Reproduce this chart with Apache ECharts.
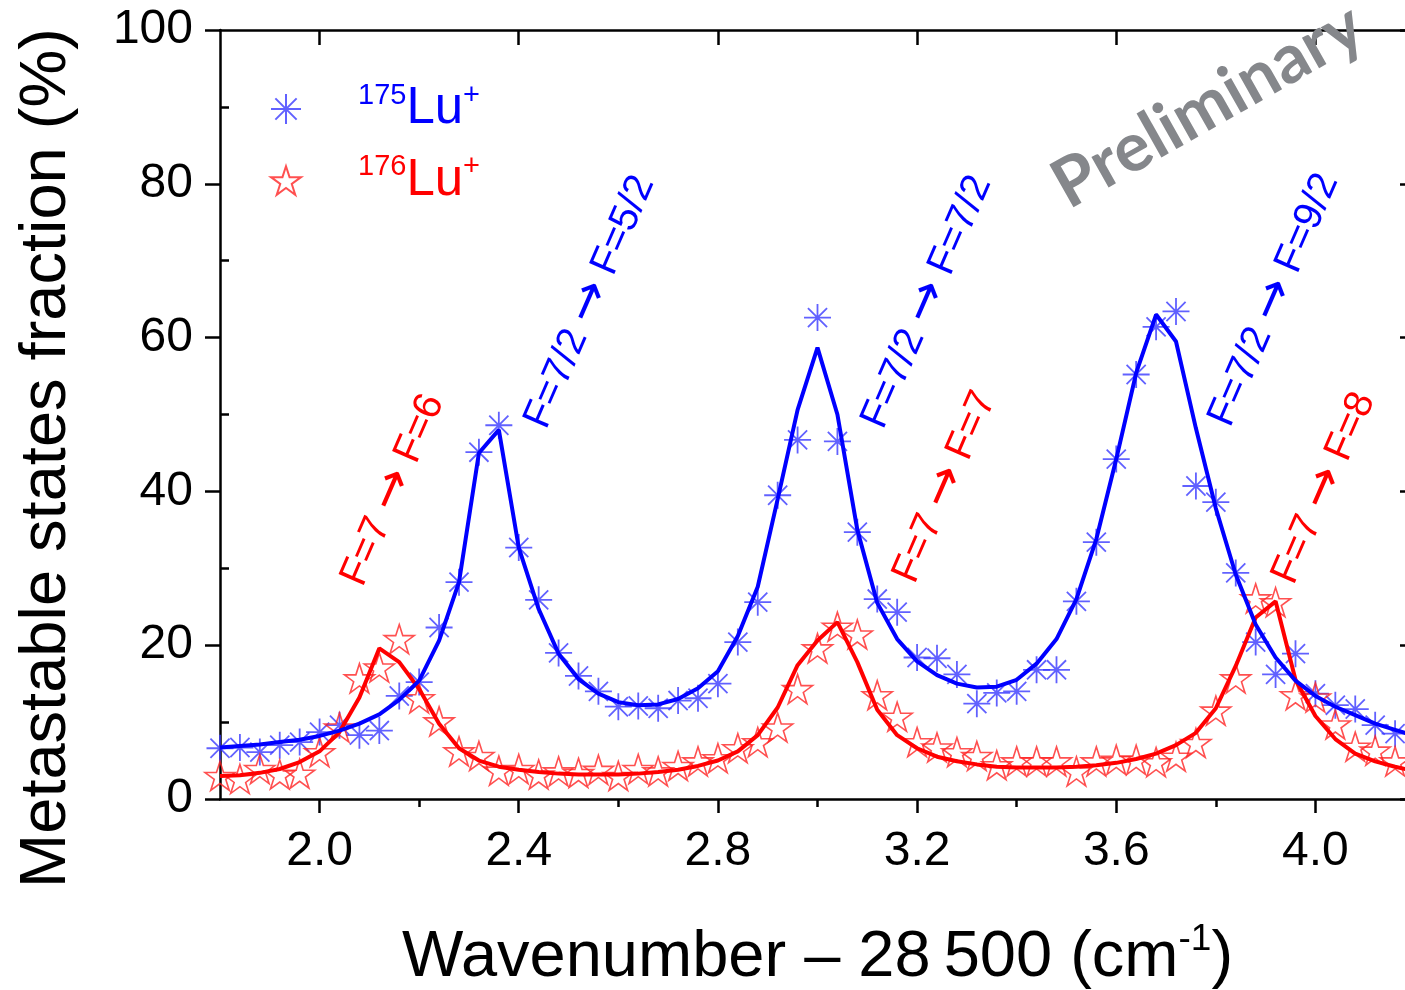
<!DOCTYPE html>
<html>
<head>
<meta charset="utf-8">
<script src="https://cdn.jsdelivr.net/npm/echarts@6/dist/echarts.min.js"></script>
<style>
  html, body { margin: 0; padding: 0; background: #fff; }
  #chart { width: 1405px; height: 990px; }
</style>
</head>
<body>
<div id="chart"></div>
<script>
// Wavenumber offset from 28 500 cm^-1
const wavenumber = [
  1.80, 1.84, 1.88, 1.92, 1.96, 2.00, 2.04, 2.08, 2.12, 2.16,
  2.20, 2.24, 2.28, 2.32, 2.36, 2.40, 2.44, 2.48, 2.52, 2.56,
  2.60, 2.64, 2.68, 2.72, 2.76, 2.80, 2.84, 2.88, 2.92, 2.96,
  3.00, 3.04, 3.08, 3.12, 3.16, 3.20, 3.24, 3.28, 3.32, 3.36,
  3.40, 3.44, 3.48, 3.52, 3.56, 3.60, 3.64, 3.68, 3.72, 3.76,
  3.80, 3.84, 3.88, 3.92, 3.96, 4.00, 4.04, 4.08, 4.12, 4.16,
  4.20
];

// Measured metastable fraction (%), 175Lu+
const lu175 = [
  6.6, 6.7, 6.1, 7.0, 7.4, 8.7, 9.6, 8.3, 8.9, 13.4,
  15.2, 22.3, 28.2, 45.1, 48.6, 32.7, 25.9, 19.0, 16.0, 14.0,
  12.0, 12.1, 11.8, 12.8, 13.1, 15.0, 20.4, 25.6, 39.5, 46.7,
  62.6, 46.5, 34.7, 26.0, 24.3, 18.4, 18.3, 16.2, 12.4, 13.8,
  14.0, 16.8, 16.8, 25.7, 33.4, 44.2, 55.2, 61.4, 63.4, 40.7,
  38.6, 29.4, 20.4, 16.2, 18.9, 13.7, 12.2, 11.7, 9.6, 8.5,
  null
];

// Measured metastable fraction (%), 176Lu+
const lu176 = [
  3.0, 2.6, 3.9, 3.2, 3.3, 6.1, 9.3, 15.7, 17.1, 20.8,
  13.1, 10.1, 6.2, 5.6, 3.7, 3.9, 3.2, 3.6, 3.4, 3.8,
  3.0, 3.9, 3.6, 4.3, 4.9, 5.3, 6.6, 7.4, 9.3, 14.3,
  19.6, 22.4, 21.4, 13.5, 10.7, 7.4, 6.7, 6.1, 5.6, 4.4,
  4.9, 4.9, 4.9, 3.6, 4.9, 5.1, 5.1, 4.8, 5.5, 7.3,
  11.5, 15.7, 26.1, 25.6, 13.5, 13.2, 9.7, 6.8, 6.3, 4.9,
  null
];

// Fitted line profiles
const lu175Fit = [
  6.7, 6.9, 7.1, 7.4, 7.7, 8.2, 8.9, 9.8, 11.0, 12.9,
  15.4, 20.6, 28.2, 45.0, 48.0, 32.7, 24.7, 18.9, 15.6, 13.7,
  12.6, 12.2, 12.3, 13.0, 14.4, 16.6, 21.2, 27.6, 39.0, 50.6,
  58.7, 50.0, 35.0, 25.5, 20.8, 17.9, 16.1, 15.0, 14.5, 14.6,
  15.5, 17.6, 20.8, 26.0, 33.8, 44.2, 55.4, 63.0, 59.5, 48.2,
  37.8, 29.2, 22.7, 18.4, 15.4, 13.4, 12.0, 10.9, 9.8, 9.0,
  8.2
];

const lu176Fit = [
  3.0, 3.1, 3.4, 3.9, 4.8, 6.2, 8.7, 13.2, 19.6, 17.8,
  14.3, 9.8, 6.6, 5.0, 4.2, 3.8, 3.5, 3.3, 3.2, 3.2,
  3.2, 3.3, 3.5, 3.8, 4.3, 5.0, 6.2, 8.3, 11.9, 17.4,
  20.6, 23.0, 17.8, 11.6, 8.3, 6.6, 5.5, 4.9, 4.5, 4.2,
  4.1, 4.1, 4.1, 4.2, 4.4, 4.7, 5.2, 5.9, 7.0, 8.6,
  11.8, 17.3, 23.6, 25.7, 15.5, 10.8, 7.8, 5.9, 4.9, 4.2,
  3.6
];

// Tick positions
const xMajorTicks = [2.0, 2.4, 2.8, 3.2, 3.6, 4.0];
const xMinorTicks = [2.2, 2.6, 3.0, 3.4, 3.8];
const yMajorTicks = [0, 20, 40, 60, 80, 100];
const yMinorTicks = [10, 30, 50, 70, 90];

// Hyperfine transitions: [lower F, upper F]
const lu175Transitions = [['7/2', '5/2'], ['7/2', '7/2'], ['7/2', '9/2']];
const lu176Transitions = [['7', '6'], ['7', '7'], ['7', '8']];

const X_MIN = 1.8, X_MAX = 4.2, Y_MIN = 0, Y_MAX = 100;
const FONT = '"Liberation Sans", Arial, sans-serif';
const BLUE = '#0000ff', RED = '#ff0000';
const BLUE_MARK = '#3a3aff', RED_MARK = '#ff2424';

const ASTERISK = 'path://M12,0L12,24M0,12L24,12M3.5,3.5L20.5,20.5M3.5,20.5L20.5,3.5';
const STAR = 'path://M50,0L61.23,34.55L97.55,34.55L68.17,55.9L79.39,90.45L50,69.1L20.61,90.45L31.83,55.9L2.45,34.55L38.77,34.55Z';

function pairs(xs, ys) {
  const out = [];
  for (let i = 0; i < xs.length; i++) {
    if (ys[i] !== null && ys[i] !== undefined) out.push([xs[i], ys[i]]);
  }
  return out;
}

const tickLine = { color: '#000', width: 2.5 };
const axisLine = { show: true, onZero: false, lineStyle: { color: '#000', width: 2.5 } };

function xAxisDef(position, values, opts) {
  return Object.assign({
    type: 'value', position: position, min: X_MIN, max: X_MAX,
    axisLine: { show: false },
    axisTick: { show: true, inside: false, length: 14, customValues: values, lineStyle: tickLine },
    axisLabel: { show: false },
    splitLine: { show: false }, minorTick: { show: false }
  }, opts);
}
function yAxisDef(position, values, opts) {
  return Object.assign({
    type: 'value', position: position, min: Y_MIN, max: Y_MAX,
    axisLine: { show: false },
    axisTick: { show: true, inside: false, length: 14, customValues: values, lineStyle: tickLine },
    axisLabel: { show: false },
    splitLine: { show: false }, minorTick: { show: false }
  }, opts);
}

const chart = echarts.init(document.getElementById('chart'), null, { renderer: 'canvas' });

// Rotated "F=a → F=b" transition label
const transitionLabel = (pair, color, x, y) => ({
  type: 'text', x: x, y: y, rotation: 66.5 * Math.PI / 180, z: 10,
  style: {
    text: 'F=' + pair[0] + ' {arr|\u2192} F=' + pair[1],
    fill: color, fontSize: 40, fontFamily: FONT,
    align: 'center', verticalAlign: 'middle',
    rich: {
      arr: { fontSize: 50, fontFamily: '"DejaVu Sans", sans-serif', fill: color, color: color }
    }
  }
});

chart.setOption({
  animation: false,
  backgroundColor: '#ffffff',
  grid: { left: 220, right: -10, top: 30, bottom: 191, containLabel: false, outerBoundsMode: 'none' },
  xAxis: [
    xAxisDef('bottom', xMajorTicks, {
      axisLine: axisLine,
      axisLabel: {
        show: true, customValues: xMajorTicks, formatter: v => v.toFixed(1),
        fontSize: 48, fontFamily: FONT, color: '#000', margin: 29
      },
      name: 'Wavenumber \u2013 28\u2009500 (cm{sup|-1})',
      nameLocation: 'middle', nameGap: 122,
      nameTextStyle: {
        fontSize: 65, fontFamily: FONT, color: '#000', lineHeight: 74,
        rich: { sup: { fontSize: 37, fontFamily: FONT, color: '#000', lineHeight: 40, verticalAlign: 'top' } }
      }
    }),
    xAxisDef('bottom', xMinorTicks, { axisTick: { show: true, inside: false, length: 8, customValues: xMinorTicks, lineStyle: tickLine } }),
    xAxisDef('top', xMajorTicks, { axisLine: axisLine, axisTick: { show: true, inside: true, length: 15, customValues: xMajorTicks, lineStyle: tickLine } }),
    xAxisDef('top', xMinorTicks, { axisTick: { show: true, inside: true, length: 8, customValues: xMinorTicks, lineStyle: tickLine } })
  ],
  yAxis: [
    yAxisDef('left', yMajorTicks, {
      axisLine: axisLine,
      axisTick: { show: true, inside: false, length: 15, customValues: yMajorTicks, lineStyle: tickLine },
      axisLabel: {
        show: true, customValues: yMajorTicks, fontSize: 48, fontFamily: FONT, color: '#000', margin: 27
      }
    }),
    yAxisDef('left', yMinorTicks, { axisTick: { show: true, inside: true, length: 9, customValues: yMinorTicks, lineStyle: tickLine } }),
    yAxisDef('right', yMajorTicks, { axisLine: axisLine, axisTick: { show: true, inside: true, length: 15, customValues: yMajorTicks, lineStyle: tickLine } }),
    yAxisDef('right', yMinorTicks, { axisTick: { show: true, inside: true, length: 8, customValues: yMinorTicks, lineStyle: tickLine } })
  ],
  legend: {
    show: true, orient: 'vertical', left: 265, top: 76,
    itemWidth: 30, itemHeight: 30, itemGap: 18, selectedMode: false,
    data: [
      { name: '175Lu+', icon: ASTERISK },
      { name: '176Lu+', icon: STAR }
    ],
    formatter: name => name === '175Lu+'
      ? '{gap|}{supB|175}{luB|Lu}{supB|+}'
      : '{gap|}{supR|176}{luR|Lu}{supR|+}',
    textStyle: {
      rich: {
        gap: { width: 52, lineHeight: 56 },
        supB: { fontSize: 29, fontFamily: FONT, color: BLUE, lineHeight: 18, verticalAlign: 'top' },
        luB: { fontSize: 51, fontFamily: FONT, color: BLUE, lineHeight: 56 },
        supR: { fontSize: 29, fontFamily: FONT, color: RED, lineHeight: 18, verticalAlign: 'top' },
        luR: { fontSize: 51, fontFamily: FONT, color: RED, lineHeight: 56 }
      }
    }
  },
  graphic: [
    {
      type: 'text', x: 47, y: 458, rotation: Math.PI / 2,
      style: {
        text: 'Metastable states fraction (%)', fill: '#000', fontSize: 65, fontFamily: FONT,
        align: 'center', verticalAlign: 'middle'
      }
    },
    transitionLabel(lu176Transitions[0], RED, 393, 490),
    transitionLabel(lu175Transitions[0], BLUE, 590, 302),
    transitionLabel(lu176Transitions[1], RED, 945, 487),
    transitionLabel(lu175Transitions[1], BLUE, 927, 302),
    transitionLabel(lu176Transitions[2], RED, 1324, 488),
    transitionLabel(lu175Transitions[2], BLUE, 1274, 300),
    {
      type: 'text', x: 1208, y: 106, rotation: 29.5 * Math.PI / 180, z: 20,
      style: {
        text: 'Preliminary', fontSize: 68, fontWeight: 'bold', fontFamily: 'Lato, "Open Sans", sans-serif',
        align: 'center', verticalAlign: 'middle', fill: '#85878b'
      }
    }
  ],
  series: [
    {
      name: '175Lu+', type: 'scatter', xAxisIndex: 0, yAxisIndex: 0,
      data: pairs(wavenumber, lu175), symbol: ASTERISK, symbolSize: 27,
      itemStyle: { color: BLUE_MARK, borderColor: BLUE_MARK, borderWidth: 1.8 }, z: 2
    },
    {
      name: '176Lu+', type: 'scatter', xAxisIndex: 0, yAxisIndex: 0,
      data: pairs(wavenumber, lu176), symbol: STAR, symbolSize: [30, 29],
      itemStyle: { color: 'rgba(255,255,255,0)', borderColor: RED_MARK, borderWidth: 1.6 }, z: 2
    },
    {
      name: '176Lu+ fit', type: 'line', xAxisIndex: 0, yAxisIndex: 0,
      data: pairs(wavenumber, lu176Fit), symbol: 'none', smooth: false,
      lineStyle: { color: RED, width: 4 }, z: 3
    },
    {
      name: '175Lu+ fit', type: 'line', xAxisIndex: 0, yAxisIndex: 0,
      data: pairs(wavenumber, lu175Fit), symbol: 'none', smooth: false,
      lineStyle: { color: BLUE, width: 4 }, z: 4
    }
  ]
});
</script>
</body>
</html>
